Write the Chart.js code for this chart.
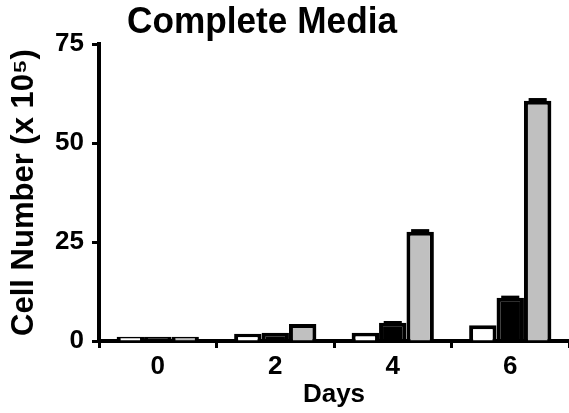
<!DOCTYPE html>
<html>
<head>
<meta charset="utf-8">
<script src="https://cdn.jsdelivr.net/npm/chart.js@4.4.0/dist/chart.umd.min.js"></script>
<style>
  html, body { margin: 0; padding: 0; background: #fff; }
</style>
</head>
<body>
<canvas id="chart" width="569" height="413"></canvas>
<script>
// === DATOS ===
const days = ["0", "2", "4", "6"];
const serieBlanca = [1.1, 1.8, 2.1, 4.0];
const serieNegra = [1.1, 2.1, 4.6, 10.9];
const serieGris = [1.1, 4.3, 27.6, 60.7];
const errBlanca = [0, 0, 0, 0];
const errNegra = [0, 0, 0.2, 0.3];
const errGris = [0, 0, 0.4, 0.4];
const yMin = 0, yMax = 75, yStep = 25;

const FONT = "'Liberation Sans', Arial, Helvetica, sans-serif";
Chart.defaults.font.family = FONT;
Chart.defaults.font.weight = "bold";
Chart.defaults.color = "#000";

// barras de error pequeñas encima de cada barra
const errorBars = {
  id: "errorBars",
  afterDatasetsDraw(chart) {
    const ctx = chart.ctx;
    const y = chart.scales.y;
    chart.data.datasets.forEach((ds, i) => {
      const meta = chart.getDatasetMeta(i);
      meta.data.forEach((bar, j) => {
        if (!ds.errors[j]) return;
        const top = y.getPixelForValue(ds.data[j] + ds.errors[j]);
        const half = bar.width * 0.33;
        ctx.save();
        ctx.fillStyle = "#000";
        ctx.fillRect(bar.x - half, top - 1, half * 2, bar.y - top + 2);
        ctx.restore();
      });
    });
  }
};

// título desplazado a la izquierda como en la figura
const tituloPlugin = {
  id: "tituloPlugin",
  afterDraw(chart) {
    const ctx = chart.ctx;
    const text = "Complete Media";
    ctx.save();
    ctx.font = "bold 37px " + FONT;
    ctx.fillStyle = "#000";
    ctx.textBaseline = "alphabetic";
    const w = ctx.measureText(text).width;
    const sx = 270 / w;
    ctx.translate(262, 33);
    ctx.scale(sx, 1);
    ctx.textAlign = "center";
    ctx.fillText(text, 0, 0);
    ctx.restore();
  }
};

new Chart(document.getElementById("chart"), {
  type: "bar",
  data: {
    labels: days,
    datasets: [
      { data: serieBlanca, errors: errBlanca, backgroundColor: "#fff" },
      { data: serieNegra, errors: errNegra, backgroundColor: "#000" },
      { data: serieGris, errors: errGris, backgroundColor: "#c0c0c0" },
    ],
  },
  options: {
    responsive: false,
    animation: false,
    layout: { padding: { top: 44, right: 0, bottom: 0, left: 0 } },
    datasets: {
      bar: { categoryPercentage: 0.7, barPercentage: 1.0, borderColor: "#000", borderWidth: 4 },
    },
    plugins: { legend: { display: false }, tooltip: { enabled: false }, title: { display: false } },
    scales: {
      x: {
        offset: true,
        grid: { offset: true, drawOnChartArea: false, tickLength: 7, tickWidth: 3, tickColor: "#000" },
        border: { color: "#000", width: 4 },
        ticks: { font: { size: 26 }, padding: 3 },
        title: { display: true, text: "Days", font: { size: 26 }, padding: { top: 0, bottom: 3 } },
        afterFit: (s) => { s.height = 72; },
      },
      y: {
        min: yMin,
        max: yMax,
        grid: { drawOnChartArea: false, tickLength: 7, tickWidth: 3, tickColor: "#000" },
        border: { color: "#000", width: 4 },
        ticks: { stepSize: yStep, font: { size: 26 }, padding: 8 },
        title: { display: true, text: "Cell Number (x 10\u2075)", font: { size: 31 }, padding: { top: 6, bottom: 0 } },
        afterFit: (s) => { s.width = 99; },
      },
    },
  },
  plugins: [errorBars, tituloPlugin],
});
</script>
</body>
</html>
